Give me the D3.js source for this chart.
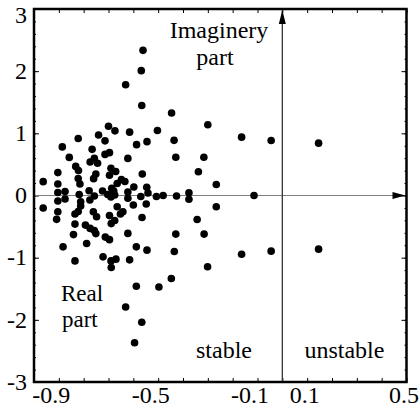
<!DOCTYPE html>
<html>
<head>
<meta charset="utf-8">
<script src="https://cdnjs.cloudflare.com/ajax/libs/d3/7.8.5/d3.min.js"></script>
<style>
  body { margin: 0; background: #fff; }
  svg text { font-family: "Liberation Serif", "DejaVu Serif", serif !important; fill: #000; }
</style>
</head>
<body>
<div id="eigen-plot"></div>
<script>
// eigenvalues, real part (x) and imaginery part (y)
const realPart = [
  -0.561, -0.568, -0.631, -0.566, -0.446, -0.300, -0.700, -0.674, -0.615, -0.503,
  -0.740, -0.822, -0.714, -0.545, -0.436, -0.886, -0.587, -0.766, -0.696, -0.714,
  -0.858, -0.757, -0.622, -0.429, -0.316, -0.774, -0.744, -0.832, -0.821, -0.690,
  -0.671, -0.904, -0.751, -0.696, -0.564, -0.338, -0.760, -0.822, -0.815, -0.648,
  -0.634, -0.266, -0.963, -0.904, -0.665, -0.687, -0.598, -0.546, -0.778, -0.875,
  -0.904, -0.818, -0.757, -0.703, -0.690, -0.675, -0.622, -0.622, -0.570, -0.541,
  -0.507, -0.480, -0.426, -0.376, -0.376, -0.114, -0.875, -0.904, -0.812, -0.775,
  -0.724, -0.679, -0.963, -0.904, -0.909, -0.812, -0.822, -0.835, -0.761, -0.748,
  -0.696, -0.675, -0.689, -0.835, -0.793, -0.774, -0.757, -0.751, -0.841, -0.713,
  -0.696, -0.788, -0.883, -0.835, -0.722, -0.690, -0.670, -0.689, -0.665, -0.642,
  -0.652, -0.600, -0.548, -0.565, -0.622, -0.588, -0.545, -0.615, -0.588, -0.497,
  -0.447, -0.435, -0.429, -0.343, -0.315, -0.301, -0.266, -0.164, -0.045, 0.146,
  -0.631, -0.566, -0.595, -0.164, -0.045, 0.146
];
const imagPart = [
   2.335,  2.008,  1.782,  1.448,  1.326,  1.137,  1.113,  1.040,  1.019,  1.045,
   0.973,  0.916,  0.879,  0.866,  0.887,  0.782,  0.818,  0.742,  0.689,  0.661,
   0.613,  0.600,  0.597,  0.616,  0.616,  0.540,  0.519,  0.468,  0.403,  0.439,
   0.387,  0.368,  0.347,  0.326,  0.347,  0.382,  0.271,  0.274,  0.185,  0.258,
   0.226,  0.177,  0.223,  0.185,  0.194,  0.116,  0.137,  0.132,  0.076,  0.065,
   0.048,  0.016, -0.008,  0.016, -0.024,  0.008,  0.056, -0.045, -0.016,  0.040,
  -0.016,  0.000, -0.008,  0.044, -0.061,  0.000, -0.056, -0.089, -0.100, -0.073,
   0.073,  0.073, -0.202, -0.261, -0.384, -0.169, -0.258, -0.298, -0.261, -0.342,
  -0.323, -0.403, -0.452, -0.460, -0.476, -0.529, -0.565, -0.613, -0.629, -0.669,
  -0.710, -0.771, -0.826, -1.052, -0.987, -1.052, -1.024, -1.158, -0.181, -0.261,
  -0.298, -0.153, -0.137, -0.355, -0.610, -0.826, -0.879, -1.035, -1.460, -1.471,
  -1.335, -0.900, -0.621, -0.387, -0.621, -1.145, -0.181, -0.944, -0.895, -0.863,
  -1.794, -2.040, -2.368,  0.939,  0.884,  0.842
];

// tick labels
const xTicks = [-0.9, -0.5, -0.1, 0.1, 0.5];
const xTickLabels = ['-0.9', '-0.5', '-0.1', '0.1', '0.5'];
const yTicks = [-3, -2, -1, 0, 1, 2, 3];
const yTickLabels = ['-3', '-2', '-1', '0', '1', '2', '3'];

const width = 420,
      height = 411;

const x = d3.scaleLinear().domain([-1, 0.5]).range([34, 406.5]);
const y = d3.scaleLinear().domain([-3, 3]).range([382, 9]);

const svg = d3.select('#eigen-plot').append('svg')
    .attr('width', width)
    .attr('height', height);

// minor + major inner ticks on all four sides
const xMinor = x.ticks(15);
const yMinor = y.ticks(30);

svg.append('g')
    .attr('transform', 'translate(0,' + y(-3) + ')')
    .call(d3.axisBottom(x).tickValues(xMinor).tickSize(-4).tickFormat(''));
svg.append('g')
    .attr('transform', 'translate(0,' + y(3) + ')')
    .call(d3.axisTop(x).tickValues(xMinor).tickSize(-4).tickFormat(''));
svg.append('g')
    .attr('transform', 'translate(' + x(-1) + ',0)')
    .call(d3.axisLeft(y).tickValues(yMinor).tickSize(-2).tickFormat(''));
svg.append('g')
    .attr('transform', 'translate(' + x(0.5) + ',0)')
    .call(d3.axisRight(y).tickValues(yMinor).tickSize(-2).tickFormat(''));
svg.append('g')
    .attr('transform', 'translate(' + x(-1) + ',0)')
    .call(d3.axisLeft(y).tickValues(yTicks).tickSize(-5).tickFormat(''));
svg.append('g')
    .attr('transform', 'translate(' + x(0.5) + ',0)')
    .call(d3.axisRight(y).tickValues(yTicks).tickSize(-5).tickFormat(''));

svg.selectAll('.domain').remove();
svg.selectAll('.tick line').attr('stroke', '#000').attr('stroke-width', 1);

// tick labels
const xLab = svg.append('g')
    .attr('transform', 'translate(0,' + y(-3) + ')')
    .call(d3.axisBottom(x).tickValues(xTicks).tickSize(0).tickPadding(4)
      .tickFormat((d, i) => xTickLabels[i]))
    .attr('font-family', null)
    .attr('font-size', null);
xLab.selectAll('text')
    .attr('dx', d => d < 0 ? -8 : -3)
    .style('font-size', '24px');

const yLab = svg.append('g')
    .attr('transform', 'translate(' + x(-1) + ',0)')
    .call(d3.axisLeft(y).tickValues(yTicks).tickSize(0).tickPadding(7)
      .tickFormat((d, i) => yTickLabels[i]))
    .attr('font-family', null)
    .attr('font-size', null);
yLab.selectAll('.tick')
    .attr('transform', d => 'translate(0,' + Math.max(y(d), 15) + ')');
yLab.selectAll('text')
    .style('font-size', '24px');
svg.selectAll('.domain').remove();

// zero lines with arrows
svg.append('line')
    .attr('x1', x(-1)).attr('x2', x(0.5) - 8)
    .attr('y1', y(0)).attr('y2', y(0))
    .attr('stroke', '#808080')
    .attr('stroke-width', 1.2);
svg.append('path')
    .attr('d', 'M' + (x(0.5) - 1) + ',' + y(0) + 'L' + (x(0.5) - 14) + ',' + (y(0) - 3.5) +
      'L' + (x(0.5) - 14) + ',' + (y(0) + 3.5) + 'Z')
    .attr('fill', '#000');

svg.append('line')
    .attr('x1', x(0)).attr('x2', x(0))
    .attr('y1', y(-3)).attr('y2', y(3))
    .attr('stroke', '#333')
    .attr('stroke-width', 1.3);
svg.append('path')
    .attr('d', 'M' + x(0) + ',' + (y(3) + 1) + 'L' + (x(0) - 3.5) + ',' + (y(3) + 15) +
      'L' + (x(0) + 3.5) + ',' + (y(3) + 15) + 'Z')
    .attr('fill', '#000');

// frame
svg.append('rect')
    .attr('x', x(-1)).attr('y', y(3))
    .attr('width', x(0.5) - x(-1))
    .attr('height', y(-3) - y(3))
    .attr('fill', 'none')
    .attr('stroke', '#000')
    .attr('stroke-width', 2.5);

// points
svg.append('g')
  .selectAll('circle')
  .data(realPart.map((d, i) => [d, imagPart[i]]))
  .join('circle')
    .attr('cx', d => x(d[0]))
    .attr('cy', d => y(d[1]))
    .attr('r', 3.8)
    .attr('fill', '#000');

// annotations
const note = svg.append('g').style('font-size', '24px');
note.append('text').attr('x', 219).attr('y', 38).attr('text-anchor', 'middle').text('Imaginery');
note.append('text').attr('x', 215).attr('y', 65).attr('text-anchor', 'middle').text('part');
note.append('text').attr('x', 61).attr('y', 301).style('font-size', '23px').text('Real');
note.append('text').attr('x', 62).attr('y', 327).style('font-size', '23px').text('part');
note.append('text').attr('x', 224).attr('y', 358).attr('text-anchor', 'middle').text('stable');
note.append('text').attr('x', (x(0) + x(0.5)) / 2).attr('y', 358).attr('text-anchor', 'middle').text('unstable');
</script>
</body>
</html>
